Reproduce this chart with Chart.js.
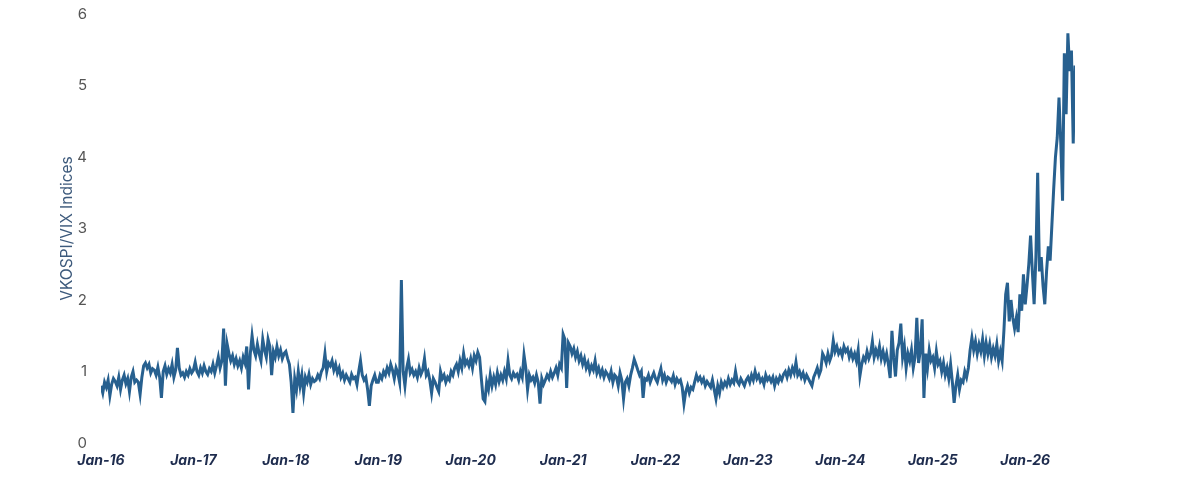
<!DOCTYPE html>
<html>
<head>
<meta charset="utf-8">
<script src="https://cdn.jsdelivr.net/npm/chart.js@4.4.1/dist/chart.umd.min.js"></script>
<style>
  html, body { margin: 0; padding: 0; background: #ffffff; }
  #wrap { width: 1180px; height: 479px; }
</style>
</head>
<body>
<div id="wrap"><canvas id="ratioChart" width="1180" height="479"></canvas></div>
<script>
// weekly VKOSPI/VIX ratio (52 points per year)
const y2016 = [
  0.80, 0.70, 0.85, 0.78,  0.88, 0.66, 0.82, 0.90,  0.86, 0.80, 0.92, 0.75, 0.88,
  0.95, 0.83, 0.90, 0.72,  0.92, 1.00, 0.85, 0.88,  0.85, 0.68, 0.92, 1.08, 1.12,
  1.05, 1.10, 0.98, 1.04,  1.02, 0.95, 1.06, 0.92,  0.63, 1.00, 1.08, 0.96, 1.04,
  0.98, 1.10, 0.92, 1.02,  1.33, 1.05, 0.95, 0.98,  0.92, 1.00, 0.95, 1.04, 0.98
];
const y2017 = [
  1.02, 1.13, 1.00, 0.95,  1.05, 0.98, 1.08, 1.00,  0.96, 1.04, 1.00, 1.10, 0.98,
  1.08, 1.20, 1.05, 1.15,  1.60, 0.80, 1.38, 1.25,  1.15, 1.22, 1.10, 1.18, 1.08,
  1.15, 1.05, 1.20, 1.12,  1.35, 0.75, 1.25, 1.50,  1.30, 1.22, 1.38, 1.25, 1.15,
  1.45, 1.30, 1.20, 1.45,  1.35, 0.95, 1.28, 1.20,  1.35, 1.22, 1.30, 1.18, 1.25
];
const y2018 = [
  1.28, 1.18, 1.10, 0.85,  0.42, 0.90, 0.75, 1.00,  0.80, 0.95, 0.70, 0.92, 0.85,
  0.96, 0.82, 0.90, 0.86,  0.88, 0.95, 0.90, 1.00,  1.05, 1.25, 1.00, 1.12, 1.08,
  1.15, 1.02, 1.10, 0.98,  1.05, 0.92, 0.98, 0.88,  0.95, 0.90, 0.85, 0.96, 0.90,
  0.92, 0.82, 1.00, 1.15,  0.95, 0.88, 0.92, 0.75,  0.52, 0.80, 0.88, 0.95, 0.85
];
const y2019 = [
  0.85, 0.95, 0.90, 1.00,  0.95, 1.05, 0.98, 1.10,  1.02, 0.90, 1.05, 0.98, 0.85,
  2.28, 1.00, 0.80, 1.05,  1.17, 0.98, 1.03, 0.95,  1.00, 0.92, 1.05, 0.96, 1.02,
  1.18, 0.95, 1.00, 0.88,  0.70, 0.90, 0.85, 0.78,  0.72, 1.00, 0.90, 0.95, 0.85,
  0.92, 0.88, 1.00, 0.95,  1.05, 1.10, 1.00, 1.15,  1.05, 1.25, 1.10, 1.15, 1.08
];
const y2020 = [
  1.18, 1.05, 1.22, 1.15,  1.27, 1.20, 0.90, 0.62,  0.58, 0.85, 0.75, 0.95, 0.80,
  0.92, 0.82, 0.98, 0.86,  0.95, 0.88, 1.00, 0.90,  1.15, 0.95, 0.90, 0.98, 0.93,
  0.96, 0.88, 1.00, 0.92,  1.23, 1.05, 0.75, 0.95,  0.88, 0.92, 0.84, 0.95, 0.85,
  0.55, 0.90, 0.82, 0.88,  0.95, 0.90, 1.00, 0.92,  0.98, 1.05, 0.95, 1.10, 1.05
];
const y2021 = [
  1.52, 1.45, 0.77, 1.40,  1.35, 1.25, 1.32, 1.20,  1.28, 1.15, 1.22, 1.10, 1.18,
  1.05, 1.12, 1.00, 1.08,  1.02, 1.15, 0.98, 1.05,  0.95, 1.02, 0.92, 1.00, 0.96,
  0.90, 1.00, 0.85, 0.95,  0.92, 0.80, 0.98, 0.88,  0.62, 0.85, 0.90, 0.80, 0.95,
  1.05, 1.17, 1.10, 1.02,  0.95, 1.00, 0.63, 0.90,  0.88, 0.95, 0.85, 0.92, 0.98
];
const y2022 = [
  0.90, 0.85, 0.95, 1.04,  0.88, 0.95, 0.85, 0.92,  0.90, 0.86, 0.94, 0.82, 0.90,
  0.85, 0.88, 0.78, 0.55,  0.72, 0.80, 0.70, 0.78,  0.75, 0.85, 0.95, 0.88, 0.92,
  0.85, 0.90, 0.80, 0.86,  0.82, 0.78, 0.88, 0.75,  0.62, 0.80, 0.70, 0.85, 0.78,
  0.85, 0.80, 0.90, 0.82,  0.88, 0.84, 1.00, 0.86,  0.82, 0.90, 0.85, 0.80, 0.88
];
const y2023 = [
  0.92, 0.85, 0.95, 0.88,  1.00, 0.90, 0.95, 0.86,  0.90, 0.82, 0.95, 0.88, 0.92,
  0.86, 0.92, 0.80, 0.90,  0.85, 0.93, 0.88, 0.96,  1.00, 0.92, 1.02, 0.95, 1.05,
  0.98, 1.13, 0.95, 1.00,  0.92, 0.98, 0.88, 0.95,  0.90, 0.85, 0.80, 0.92, 0.98,
  1.05, 0.95, 1.02, 1.25,  1.20, 1.12, 1.25, 1.15,  1.22, 1.43, 1.28, 1.35, 1.25
];
const y2024 = [
  1.30, 1.22, 1.35, 1.28,  1.32, 1.20, 1.28, 1.18,  1.25, 1.15, 1.30, 0.94, 1.10,
  1.20, 1.15, 1.28, 1.18,  1.25, 1.42, 1.20, 1.30,  1.22, 1.35, 1.18, 1.28, 1.15,
  1.25, 1.10, 0.91, 1.57,  1.20, 0.93, 1.30, 1.40,  1.67, 1.20, 1.35, 1.05, 1.25,
  1.15, 1.30, 1.05, 1.20,  1.75, 1.12, 1.30, 1.73,  0.63, 1.25, 1.05, 1.30, 1.15
];
const y2025 = [
  1.20, 1.05, 1.28, 1.10,  1.15, 1.00, 1.12, 0.95,  1.05, 0.90, 1.10, 0.85, 0.56,
  0.80, 0.95, 0.75, 0.88,  0.85, 1.00, 0.92, 1.05,  1.30, 1.47, 1.30, 1.42, 1.25,
  1.38, 1.28, 1.45, 1.22,  1.40, 1.25, 1.38, 1.20,  1.32, 1.22, 1.38, 1.15, 1.28,
  1.15, 1.57, 2.08, 2.24,  1.70, 2.00, 1.75, 1.60,  1.75, 1.55, 2.08, 1.85, 2.36
];
const y2026 = [
  1.94, 2.20, 2.50, 2.90,  2.40, 1.94, 2.60, 3.78,  2.40, 2.60, 2.20, 1.94, 2.40,
  2.75, 2.55, 3.05, 3.55,  4.00, 4.27, 4.83, 4.20,  3.39, 5.45, 4.60, 5.73, 5.20,
  5.49, 4.19, 5.28
];

const years = [2016, 2017, 2018, 2019, 2020, 2021, 2022, 2023, 2024, 2025, 2026];
const series = [y2016, y2017, y2018, y2019, y2020, y2021, y2022, y2023, y2024, y2025, y2026];
const yTicks = [0, 1, 2, 3, 4, 5, 6];

// turn (year, week) into a decimal year for the linear x scale
const points = [];
years.forEach((yr, i) => {
  series[i].forEach((v, k) => points.push({ x: yr + k / 52, y: v }));
});
const lastX = points[points.length - 1].x;

const ctx = document.getElementById('ratioChart').getContext('2d');
new Chart(ctx, {
  type: 'line',
  data: {
    datasets: [{
      label: 'VKOSPI/VIX',
      data: points,
      borderColor: '#27608f',
      borderWidth: 3,
      pointRadius: 0,
      tension: 0,
      fill: false
    }]
  },
  options: {
    responsive: false,
    animation: false,
    layout: { padding: { left: 50, right: 1180 - 1075, top: 14, bottom: 0 } },
    plugins: { legend: { display: false }, tooltip: { enabled: false } },
    scales: {
      x: {
        type: 'linear',
        min: 2016,
        max: lastX,
        grid: { display: false, drawTicks: false },
        border: { display: false },
        afterBuildTicks: (axis) => {
          axis.ticks = years.map(v => ({ value: v }));
        },
        afterFit: (axis) => { axis.height = 479 - 443; },
        ticks: {
          autoSkip: false,
          maxRotation: 0,
          padding: 9,
          color: '#1e2c4e',
          font: { family: 'Inter, "Open Sans", sans-serif', size: 14, weight: 'bold', style: 'italic' },
          callback: (v) => 'Jan-' + String(v).slice(2)
        }
      },
      y: {
        min: 0,
        max: 6,
        grid: { display: false, drawTicks: false },
        border: { display: false },
        afterBuildTicks: (axis) => {
          axis.ticks = yTicks.map(v => ({ value: v }));
        },
        afterFit: (axis) => {
          axis.width = 101 - 50;
          // tick padding is only meant horizontally here
          axis.paddingTop = 0;
          axis.paddingBottom = 0;
        },
        ticks: {
          padding: 14,
          color: '#555555',
          font: { family: 'Inter, "Open Sans", sans-serif', size: 15 }
        },
        title: {
          display: true,
          text: 'VKOSPI/VIX Indices',
          color: '#3d5a7c',
          padding: { top: 8, bottom: 0 },
          font: { family: 'Inter, "Open Sans", sans-serif', size: 15.5 }
        }
      }
    }
  }
});
</script>
</body>
</html>
